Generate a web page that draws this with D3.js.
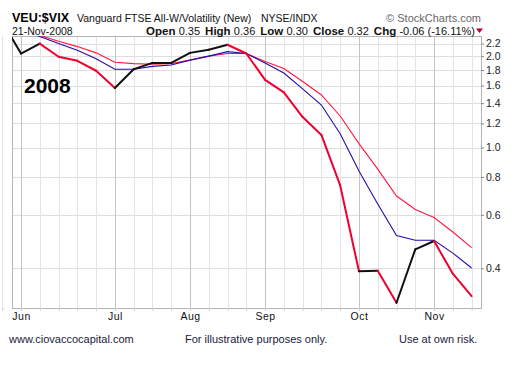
<!DOCTYPE html>
<html>
<head>
<meta charset="utf-8">
<script src="https://cdn.jsdelivr.net/npm/d3@7"></script>
<style>
  body { margin: 0; background: #fff; }
  svg { display: block; font-family: Arial, "Liberation Sans", sans-serif; }
</style>
</head>
<body>
<svg id="chart" width="512" height="372"></svg>
<script>
// weekly bars (week start, Monday)
var weeks = ["2008-05-26","2008-06-02","2008-06-09","2008-06-16","2008-06-23","2008-06-30",
  "2008-07-07","2008-07-14","2008-07-21","2008-07-28","2008-08-04","2008-08-11","2008-08-18",
  "2008-08-25","2008-09-01","2008-09-08","2008-09-15","2008-09-22","2008-09-29","2008-10-06",
  "2008-10-13","2008-10-20","2008-10-27","2008-11-03","2008-11-10","2008-11-17"];
var closes = [2.60, 2.04, 2.20, 1.99, 1.93, 1.79, 1.57, 1.81, 1.90, 1.90, 2.05, 2.10, 2.18,
  2.04, 1.67, 1.52, 1.26, 1.10, 0.75, 0.391, 0.393, 0.308, 0.462, 0.492, 0.384, 0.324];
// 1 = up week (black), 0 = down week (red)
var weekUp = [1, 1, 1, 0, 0, 0, 0, 1, 1, 1, 1, 1, 1, 0, 0, 0, 0, 0, 0, 0, 1, 0, 1, 1, 0, 0];
var maBlue = [2.56, 2.45, 2.32, 2.20, 2.09, 1.96, 1.81, 1.81, 1.85, 1.87, 1.94, 2.00, 2.07,
  2.04, 1.90, 1.76, 1.56, 1.38, 1.11, 0.837, 0.651, 0.513, 0.495, 0.495, 0.449, 0.401];
var maRed = [2.60, 2.48, 2.34, 2.24, 2.15, 2.05, 1.91, 1.89, 1.88, 1.89, 1.94, 2.00, 2.04,
  2.04, 1.92, 1.82, 1.65, 1.49, 1.27, 1.03, 0.849, 0.692, 0.625, 0.588, 0.527, 0.468];
var yTicks = [2.2, 2.0, 1.8, 1.6, 1.4, 1.2, 1.0, 0.8, 0.6, 0.4];
var stats = [["Open", "0.35"], ["High", "0.36"], ["Low", "0.30"], ["Close", "0.32"], ["Chg", "-0.06 (-16.11%)"]];

var parse = d3.timeParse("%Y-%m-%d");
var dates = weeks.map(parse);
var WEEK = 7 * 24 * 3600 * 1000;

var plotLeft = 12, plotRight = 481, plotTop = 36, plotBottom = 308;
var svg = d3.select("#chart");

var x = d3.scaleTime()
    .domain([new Date(+dates[0] + 0.52 * WEEK), new Date(+dates[dates.length - 1] + 0.5 * WEEK)])
    .range([plotLeft, plotRight]);
var y = d3.scaleLog()
    .domain([0.296, 2.33])
    .range([plotBottom, plotTop]);

// first week of each month
var monthStarts = dates.filter(function(d, i) {
  return i > 0 && d.getMonth() !== dates[i - 1].getMonth();
});

svg.append("defs").append("clipPath").attr("id", "clip")
  .append("rect").attr("x", plotLeft).attr("y", plotTop)
  .attr("width", plotRight - plotLeft).attr("height", plotBottom - plotTop);

// grid
var grid = svg.append("g");
grid.selectAll(".hg").data(yTicks).enter().append("line")
    .attr("x1", plotLeft).attr("x2", plotRight)
    .attr("y1", function(d) { return Math.round(y(d)) + 0.5; })
    .attr("y2", function(d) { return Math.round(y(d)) + 0.5; })
    .attr("stroke", "#dedede");
grid.selectAll(".vg").data(dates).enter().append("line")
    .attr("x1", function(d) { return Math.round(x(d)) + 0.5; })
    .attr("x2", function(d) { return Math.round(x(d)) + 0.5; })
    .attr("y1", plotTop).attr("y2", plotBottom)
    .attr("stroke", function(d) {
      return monthStarts.some(function(m) { return +m === +d; }) ? "#c4c4c4" : "#e4e4e4";
    });

svg.append("rect")
    .attr("x", plotLeft + 0.5).attr("y", plotTop + 0.5)
    .attr("width", plotRight - plotLeft).attr("height", plotBottom - plotTop)
    .attr("fill", "none").attr("stroke", "#b4b4b4");

// axes
var yAxis = svg.append("g")
    .attr("transform", "translate(" + plotRight + ",0)")
    .call(d3.axisRight(y).tickValues(yTicks).tickFormat(d3.format(".1f")).tickSize(3).tickPadding(2));
yAxis.select(".domain").remove();
yAxis.selectAll("line").attr("stroke", "#888");
yAxis.selectAll("text").attr("font-size", "10.5px").attr("fill", "#222")
    .attr("font-family", "Arial, 'Liberation Sans', sans-serif");

var wAxis = svg.append("g")
    .attr("transform", "translate(0," + plotBottom + ")")
    .call(d3.axisBottom(x).tickValues(dates).tickFormat("").tickSize(3));
wAxis.select(".domain").remove();
wAxis.selectAll("line").attr("stroke", "#d0d0d0");

var xAxis = svg.append("g")
    .attr("transform", "translate(0," + plotBottom + ")")
    .call(d3.axisBottom(x).tickValues(monthStarts).tickFormat(d3.timeFormat("%b")).tickSize(0).tickPadding(5));
xAxis.select(".domain").remove();
xAxis.selectAll("text").attr("font-size", "10.5px").attr("fill", "#111")
    .attr("letter-spacing", "0.5px")
    .attr("font-family", "Arial, 'Liberation Sans', sans-serif");

// series
var plot = svg.append("g").attr("clip-path", "url(#clip)");
var line = d3.line()
    .x(function(d) { return x(d.date); })
    .y(function(d) { return y(d.v); });
function pts(vals) {
  return vals.map(function(v, i) { return { date: dates[i], v: v }; });
}
plot.append("path").datum(pts(maRed)).attr("d", line)
    .attr("fill", "none").attr("stroke", "#ff1744").attr("stroke-width", 1.1);
plot.append("path").datum(pts(maBlue)).attr("d", line)
    .attr("fill", "none").attr("stroke", "#2a0aa8").attr("stroke-width", 1.1);

var pricePts = pts(closes);
var segs = d3.range(1, pricePts.length).map(function(i) {
  return { pair: [pricePts[i - 1], pricePts[i]], up: weekUp[i] };
});
plot.selectAll(".seg").data(segs).enter().append("path")
    .attr("d", function(s) { return line(s.pair); })
    .attr("fill", "none")
    .attr("stroke-linecap", "round")
    .attr("stroke", function(s) { return s.up ? "#111" : "#ee0030"; })
    .attr("stroke-width", 2);

// header
svg.append("text").attr("x", 12).attr("y", 21.5)
    .attr("font-size", "12.5px").attr("font-weight", "bold").attr("fill", "#000")
    .text("VEU:$VIX");
svg.append("text").attr("x", 77).attr("y", 21.5)
    .attr("font-size", "10.5px").attr("fill", "#111")
    .text("Vanguard FTSE All-W/Volatility (New)");
svg.append("text").attr("x", 261).attr("y", 21.5)
    .attr("font-size", "10.5px").attr("fill", "#111")
    .text("NYSE/INDX");
svg.append("text").attr("x", 481).attr("y", 21.5).attr("text-anchor", "end")
    .attr("font-size", "11px").attr("fill", "#666")
    .text("\u00a9 StockCharts.com");
svg.append("text").attr("x", 12).attr("y", 34.5)
    .attr("font-size", "10.5px").attr("fill", "#111")
    .text("21-Nov-2008");

var st = svg.append("text").attr("x", 475).attr("y", 34.5).attr("text-anchor", "end")
    .attr("font-size", "11px").attr("fill", "#111").attr("xml:space", "preserve");
stats.forEach(function(s, i) {
  st.append("tspan").attr("font-weight", "bold").attr("font-size", "11.5px")
    .attr("dx", i ? 5 : 0)
    .text(s[0] + " ");
  st.append("tspan").text(s[1]);
});
svg.append("path").attr("d", "M476,28.5L483,28.5L479.5,33Z").attr("fill", "#b8002a");

svg.append("text").attr("x", 24).attr("y", 93)
    .attr("font-size", "21px").attr("font-weight", "bold").attr("fill", "#000")
    .text("2008");

// footer
var foot = [["www.ciovaccocapital.com", 9], ["For illustrative purposes only.", 185], ["Use at own risk.", 399]];
svg.selectAll(".foot").data(foot).enter().append("text")
    .attr("x", function(d) { return d[1]; }).attr("y", 343)
    .attr("font-size", "11px").attr("fill", "#1a1a40")
    .text(function(d) { return d[0]; });
</script>
</body>
</html>
